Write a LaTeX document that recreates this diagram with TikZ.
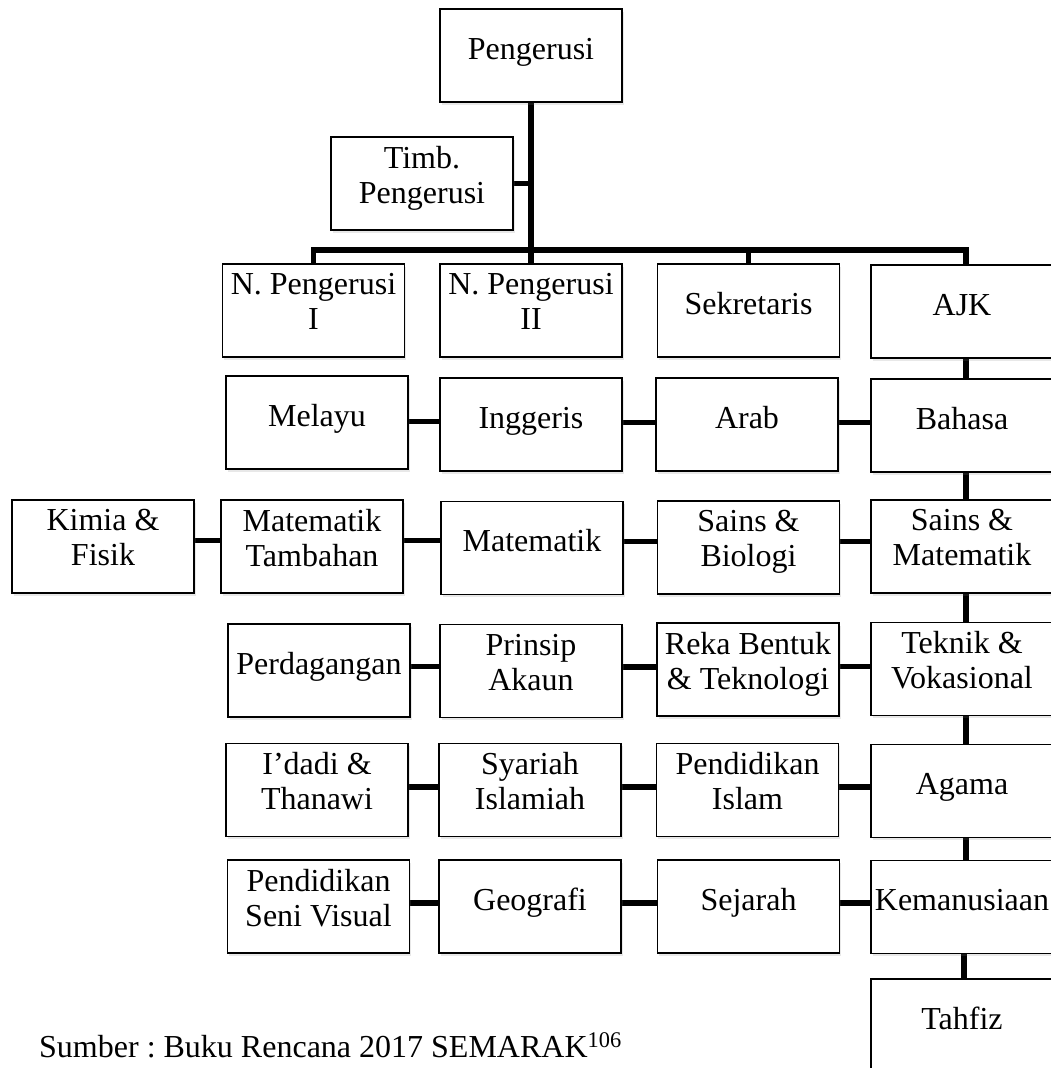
\documentclass[tikz,border=0pt]{standalone}
\usepackage{fontspec}
\setmainfont{Liberation Serif}
\frenchspacing
\usetikzlibrary{shadows,backgrounds}
\begin{document}
\begin{tikzpicture}[x=1pt,y=-1pt,
  box/.style={draw=black, line width=1.6pt, fill=white,
    minimum width=182pt, minimum height=93pt, inner sep=0pt, outer sep=0pt,
    align=center, font=\fontsize{32}{35}\selectfont,
    execute at begin node={\rule{0pt}{24.5pt}},
    execute at end node={\rule[-17.5pt]{0pt}{0pt}},
    drop shadow={opacity=0.18, shadow xshift=1.5pt, shadow yshift=-2.5pt}},
  conn/.style={line width=5.5pt, black, line join=miter}]
\useasboundingbox (0,0) rectangle (1051,1068);
\clip (0,0) rectangle (1051,1068);

% top
\node[box] (pg) at (531,55.5) {Pengerusi};
\node[box] (timb) at (422,183.5) {Timb.\\Pengerusi};
\coordinate (bus) at (531,250);

% row 1
\node[box] (np1) at (313.5,310.5) {N. Pengerusi\\I};
\node[box] (np2) at (531,310.5) {N. Pengerusi\\II};
\node[box] (sek) at (748.5,310.5) {Sekretaris};
\node[box] (ajk) at (962,311.5) {AJK};

% row 2
\node[box] (melayu) at (317,422.5) {Melayu};
\node[box] (inggeris) at (531,424.5) {Inggeris};
\node[box] (arab) at (747,424.5) {Arab};
\node[box] (bahasa) at (962,425.5) {Bahasa};

% row 3
\node[box] (kimia) at (103,546.5) {Kimia \&\\Fisik};
\node[box] (mattam) at (312,546.5) {Matematik\\Tambahan};
\node[box] (matematik) at (532,548) {Matematik};
\node[box] (sainsbio) at (748.5,547.5) {Sains \&\\Biologi};
\node[box] (sainsmat) at (962,546.5) {Sains \&\\Matematik};

% row 4
\node[box] (dagang) at (319,670.5) {Perdagangan};
\node[box] (prinsip) at (531,671) {Prinsip\\Akaun};
\node[box] (reka) at (748,669.5) {Reka Bentuk\\\& Teknologi};
\node[box] (teknik) at (962,669) {Teknik \&\\Vokasional};

% row 5
\node[box] (idadi) at (317,790) {I’dadi \&\\Thanawi};
\node[box] (syariah) at (530,790) {Syariah\\Islamiah};
\node[box] (pislam) at (747.5,790) {Pendidikan\\Islam};
\node[box] (agama) at (962,791) {Agama};

% row 6
\node[box] (psv) at (318.5,906.5) {Pendidikan\\Seni Visual};
\node[box] (geografi) at (530,906.5) {Geografi};
\node[box] (sejarah) at (748.5,906.5) {Sejarah};
\node[box] (kemanusiaan) at (962,907) {Kemanusiaan};

% row 7
\node[box] (tahfiz) at (962,1025.5) {Tahfiz};

% caption
\node[anchor=base west, inner sep=0pt, font=\fontsize{32}{35}\selectfont] (src) at (39,1057)
  {Sumber : Buku Rencana 2017 SEMARAK\textsuperscript{106}};

\begin{scope}[on background layer]
  \draw[conn] (pg.south) -- (pg.south |- bus);
  \draw[conn] (timb.east) -- (timb.east -| pg.south);
  \draw[conn] (np1.north) -- (np1.north |- bus) -- ([xshift=4pt]ajk.north |- bus) -- ([xshift=4pt]ajk.north);
  \draw[conn] (np2.north |- bus) -- (np2.north);
  \draw[conn] (sek.north |- bus) -- (sek.north);
  % right column chain
  \draw[conn] ([xshift=4pt]ajk.south) -- ([xshift=4pt]bahasa.north);
  \draw[conn] ([xshift=4pt]bahasa.south) -- ([xshift=4pt]sainsmat.north);
  \draw[conn] ([xshift=4pt]sainsmat.south) -- ([xshift=4pt]teknik.north);
  \draw[conn] ([xshift=4pt]teknik.south) -- ([xshift=4pt]agama.north);
  \draw[conn] ([xshift=4pt]agama.south) -- ([xshift=4pt]kemanusiaan.north);
  \draw[conn] ([xshift=2pt]kemanusiaan.south) -- ([xshift=2pt]tahfiz.north);
  % row 2
  \draw[conn] ([yshift=1pt]melayu.east) -- ([yshift=1pt]melayu.east -| inggeris.west);
  \draw[conn] ([yshift=2pt]inggeris.east) -- ([yshift=2pt]inggeris.east -| arab.west);
  \draw[conn] ([yshift=2pt]arab.east) -- ([yshift=2pt]arab.east -| bahasa.west);
  % row 3
  \draw[conn] ([yshift=6pt]kimia.east) -- ([yshift=6pt]kimia.east -| mattam.west);
  \draw[conn] ([yshift=6pt]mattam.east) -- ([yshift=6pt]mattam.east -| matematik.west);
  \draw[conn] ([yshift=6pt]sainsbio.west -| matematik.east) -- ([yshift=6pt]sainsbio.west);
  \draw[conn] ([yshift=6pt]sainsbio.east) -- ([yshift=6pt]sainsbio.east -| sainsmat.west);
  % row 4
  \draw[conn] ([yshift=4pt]dagang.east) -- ([yshift=4pt]dagang.east -| prinsip.west);
  \draw[conn] ([yshift=4pt]prinsip.east) -- ([yshift=4pt]prinsip.east -| reka.west);
  \draw[conn] ([yshift=3pt]reka.east) -- ([yshift=3pt]reka.east -| teknik.west);
  % row 5
  \draw[conn] ([yshift=3pt]idadi.east) -- ([yshift=3pt]idadi.east -| syariah.west);
  \draw[conn] ([yshift=3pt]syariah.east) -- ([yshift=3pt]syariah.east -| pislam.west);
  \draw[conn] ([yshift=3pt]pislam.east) -- ([yshift=3pt]pislam.east -| agama.west);
  % row 6
  \draw[conn] ([yshift=3.5pt]psv.east) -- ([yshift=3.5pt]psv.east -| geografi.west);
  \draw[conn] ([yshift=3.5pt]geografi.east) -- ([yshift=3.5pt]geografi.east -| sejarah.west);
  \draw[conn] ([yshift=3.5pt]sejarah.east) -- ([yshift=3.5pt]sejarah.east -| kemanusiaan.west);
\end{scope}
\end{tikzpicture}
\end{document}
